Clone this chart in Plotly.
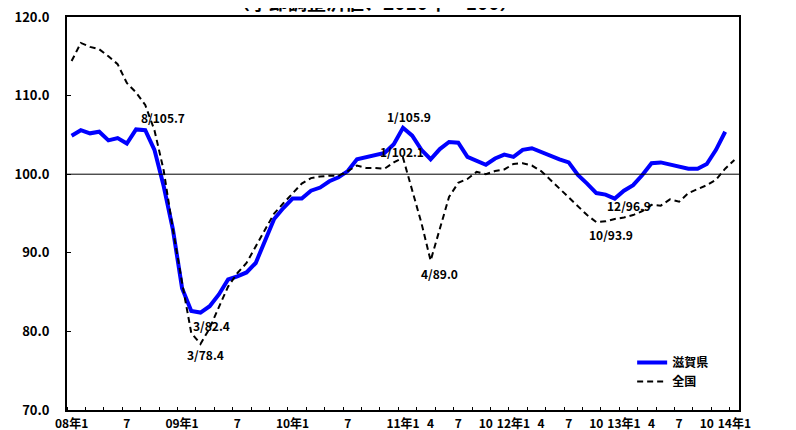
import plotly.graph_objects as go

# ---- data (monthly, 2008/1 .. 2014/1) ----
shiga = [104.9, 105.6, 105.2, 105.4, 104.3, 104.6, 103.9, 105.7, 105.6, 103.1, 98.5, 93.0,
         85.5, 82.6, 82.4, 83.2, 84.7, 86.6, 87.0, 87.5, 88.7, 91.6, 94.3, 95.7,
         96.9, 96.9, 97.9, 98.3, 99.1, 99.6, 100.4, 101.9, 102.2, 102.4, 102.7, 103.8,
         105.9, 104.9, 103.1, 101.9, 103.2, 104.1, 104.0, 102.2, 101.7, 101.2, 102.0, 102.5,
         102.2, 103.1, 103.3, 102.8, 102.4, 101.9, 101.5, 99.9, 98.8, 97.6, 97.4, 96.9,
         97.9, 98.6, 99.9, 101.4, 101.5, 101.2, 101.0, 100.7, 100.7, 101.3, 103.1, 105.4]
national = [114.4, 116.7, 116.2, 115.9, 115.0, 114.0, 111.6, 110.4, 108.8, 105.6, 100.5, 93.0,
            86.2, 79.8, 78.4, 80.4, 83.1, 85.7, 87.4, 88.7, 90.8, 92.9, 95.0, 96.3,
            97.6, 98.8, 99.5, 99.7, 99.8, 99.8, 100.4, 101.1, 100.8, 100.8, 100.7, 101.5,
            102.1, 97.8, 93.8, 89.0, 92.9, 97.1, 98.9, 99.4, 100.3, 100.0, 100.4, 100.6,
            101.3, 101.4, 101.1, 100.4, 99.3, 98.2, 97.1, 96.0, 94.8, 93.9, 94.0, 94.3,
            94.5, 94.8, 95.3, 96.1, 96.0, 96.8, 96.5, 97.6, 98.1, 98.6, 99.3, 100.7, 101.8]
month_idx = list(range(len(national)))
tick_pos = [0, 6, 12, 18, 24, 30, 36, 39, 42, 45, 48, 51, 54, 57, 60, 63, 66, 69, 72]
tick_text = ["08年1", "7", "09年1", "7", "10年1", "7", "11年1", "4", "7", "10",
             "12年1", "4", "7", "10", "13年1", "4", "7", "10", "14年1"]
y_ticks = [70, 80, 90, 100, 110, 120]
# data labels: (text, x, y)
point_labels = [("8/105.7", 9.9, 107.2), ("3/82.4", 15.2, 80.8), ("3/78.4", 14.5, 77.1),
                ("1/105.9", 36.6, 107.3), ("1/102.1", 35.9, 102.9), ("4/89.0", 40.0, 87.4),
                ("10/93.9", 58.6, 92.3), ("12/96.9", 60.6, 96.0),
                ("12/105.4", 76.0, 105.1), ("1/101.8", 76.3, 101.7)]
title_text = "（季節調整済値、2010年＝100）"

FONT = "Noto Sans CJK JP"

fig = go.Figure()
fig.add_trace(go.Scatter(x=month_idx[:len(shiga)], y=shiga, mode="lines", name="滋賀県",
                         line=dict(color="#0000FF", width=4)))
fig.add_trace(go.Scatter(x=month_idx, y=national, mode="lines", name="全国",
                         line=dict(color="black", width=2, dash="6px,4px")))

fig.add_hline(y=100, line=dict(color="black", width=1))

for txt, x, y in point_labels:
    fig.add_annotation(x=x, y=y, xref="x", yref="y", text=txt, showarrow=False,
                       font=dict(family=FONT, size=12, color="black", weight="bold"))

fig.add_annotation(x=0.458, y=1.0, xref="paper", yref="paper", yanchor="middle", yshift=16,
                   text=title_text, showarrow=False,
                   font=dict(family=FONT, size=19, color="black", weight="bold"))

fig.update_layout(
    width=788, height=422,
    margin=dict(l=59, r=57, t=9, b=20, autoexpand=False),
    paper_bgcolor="white", plot_bgcolor="white",
    font=dict(family=FONT, size=12, color="black", weight="bold"),
    showlegend=True,
    legend=dict(x=0.841, y=0.158, xanchor="left", yanchor="top", bgcolor="rgba(0,0,0,0)",
                font=dict(family=FONT, size=12, color="black", weight="bold"),
                itemwidth=30, tracegroupgap=0),
    xaxis=dict(range=[-0.5, 72.5], tickmode="array", tickvals=tick_pos, ticktext=tick_text,
               ticks="", showgrid=False, zeroline=False, showline=True, linecolor="black",
               linewidth=2, mirror=True, automargin=False, ticklabelstandoff=2,
               ticklabeloverflow="allow",
               minor=dict(ticks="inside", tickmode="linear", tick0=-0.5, dtick=2, ticklen=3,
                          tickcolor="black", tickwidth=1, showgrid=False),
               tickfont=dict(family=FONT, size=12, weight="bold")),
    yaxis=dict(range=[70, 120], tickmode="array", tickvals=y_ticks, tickformat=".1f",
               ticks="inside", ticklen=4, tickcolor="black", showgrid=False, zeroline=False,
               showline=True, linecolor="black", linewidth=2, mirror=True, ticklabelstandoff=13,
               ticklabeloverflow="allow",
               automargin=False, tickfont=dict(family=FONT, size=13, weight="bold")),
)

fig.write_html("out.html")
